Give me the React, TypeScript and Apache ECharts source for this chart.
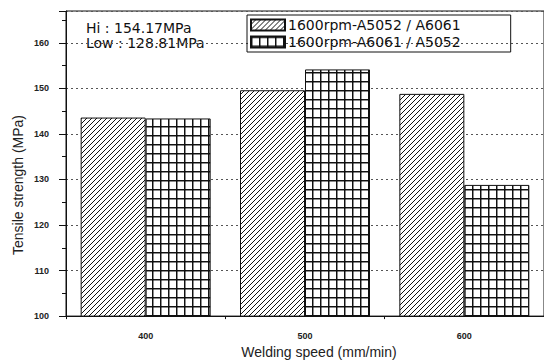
import React, { useEffect, useRef } from "react";
import * as echarts from "echarts";

const categories = ["400", "500", "600"];
const seriesNames = ["1600rpm-A5052 / A6061", "1600rpm-A6061 / A5052"];
const hatchedValues = [143.6, 149.6, 148.8];
const gridValues = [143.4, 154.17, 128.81];
const annotations = ["Hi : 154.17MPa", "Low : 128.81MPa"];
const yTitle = "Tensile strength (MPa)";
const xTitle = "Welding speed (mm/min)";

function makeHatch(): string {
  const c = document.createElement("canvas");
  const n = 5;
  c.width = n;
  c.height = n;
  const ctx = c.getContext("2d")!;
  ctx.fillStyle = "#fff";
  ctx.fillRect(0, 0, n, n);
  ctx.fillStyle = "#111";
  for (let i = 0; i < n; i++) ctx.fillRect(i, n - 1 - i, 1, 1);
  return c.toDataURL();
}

function makeGrid(): string {
  const c = document.createElement("canvas");
  c.width = 8;
  c.height = 9;
  const ctx = c.getContext("2d")!;
  ctx.fillStyle = "#fff";
  ctx.fillRect(0, 0, 8, 9);
  ctx.fillStyle = "#111";
  ctx.fillRect(0, 0, 1, 9);
  ctx.fillRect(0, 0, 8, 1);
  ctx.fillStyle = "rgba(0,0,0,0.45)";
  ctx.fillRect(1, 0, 1, 9);
  ctx.fillRect(0, 1, 8, 1);
  return c.toDataURL();
}

export default function App() {
  const ref = useRef<HTMLDivElement>(null);
  useEffect(() => {
    document.body.style.margin = "0";
    if (!ref.current) return;
    const chart = echarts.init(ref.current, null, { renderer: "svg" });
    const hatch = makeHatch();
    const grid = makeGrid();
    const axisText = { color: "#222", fontSize: 9, fontWeight: "bold" as const, fontFamily: "Liberation Sans" };
    chart.setOption({
      animation: false,
      backgroundColor: "#fff",
      grid: {
        left: 66,
        top: 11,
        bottom: 44,
        width: 480,
        show: true,
        borderColor: "#111",
        borderWidth: 1,
        backgroundColor: "transparent",
      },
      legend: {
        left: 247,
        top: 15,
        orient: "vertical",
        itemWidth: 34,
        itemHeight: 11,
        itemGap: 3,
        padding: [3, 50, 3, 3],
        borderColor: "#111",
        borderWidth: 1,
        icon: "rect",
        textStyle: { fontFamily: "DejaVu Sans", fontSize: 14, color: "#111", padding: [0, 0, 0, -2] },
        data: seriesNames,
      },
      xAxis: {
        type: "category",
        data: categories,
        name: xTitle,
        nameLocation: "middle",
        nameGap: 25,
        nameTextStyle: { fontFamily: "Liberation Sans", fontSize: 14, color: "#222", padding: [0, 0, 0, 28] },
        axisLine: { lineStyle: { color: "#111", width: 1 } },
        axisTick: { show: true, length: 3, lineStyle: { color: "#111" } },
        axisLabel: { ...axisText, margin: 15 },
        splitLine: { show: false },
      },
      yAxis: {
        type: "value",
        min: 100,
        max: 167,
        interval: 10,
        axisLine: { show: true, lineStyle: { color: "#111", width: 1 } },
        axisTick: { show: true, length: 7, lineStyle: { color: "#111" } },
        minorTick: { show: true, splitNumber: 2, length: 4, lineStyle: { color: "#111" } },
        axisLabel: {
          ...axisText,
          margin: 17,
          showMaxLabel: false,
          formatter: (v: number) => (v % 10 === 0 ? String(v) : ""),
        },
        splitLine: { show: true, lineStyle: { type: [2, 3], color: "#555", width: 1 } },
      },
      graphic: [
        ...annotations.map((t, i) => ({
          type: "text",
          left: 86,
          top: 21 + i * 15,
          style: { text: t, fontFamily: "DejaVu Sans", fontSize: 14, fill: "#111" },
        })),
        {
          type: "text",
          x: 18,
          y: 185,
          rotation: Math.PI / 2,
          style: {
            text: yTitle,
            fontFamily: "Liberation Sans",
            fontSize: 14,
            fill: "#222",
            align: "center",
            verticalAlign: "middle",
          },
        },
      ],
      series: [
        {
          name: seriesNames[0],
          type: "bar",
          data: hatchedValues,
          barWidth: 65,
          barGap: "0%",
          itemStyle: { color: { image: hatch, repeat: "repeat" }, borderColor: "#111", borderWidth: 1 },
        },
        {
          name: seriesNames[1],
          type: "bar",
          data: gridValues,
          barWidth: 65,
          barGap: "0%",
          itemStyle: { color: { image: grid, repeat: "repeat" }, borderColor: "#111", borderWidth: 1 },
        },
      ],
    });
    return () => chart.dispose();
  }, []);
  return <div ref={ref} style={{ width: 544, height: 364 }} />;
}
